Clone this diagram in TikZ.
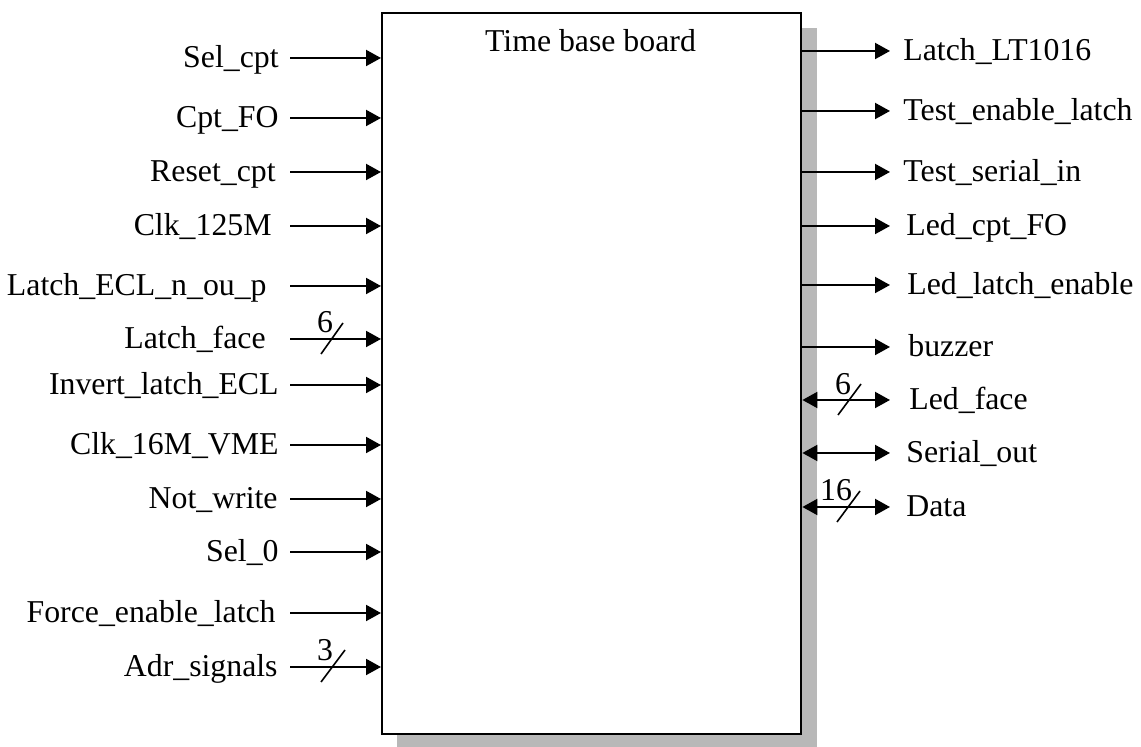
\documentclass[tikz,border=0pt]{standalone}
\usepackage{fontspec}
\setmainfont{Liberation Serif}
\usetikzlibrary{arrows.meta}
\begin{document}
\begin{tikzpicture}[x=0.5pt,y=-0.5pt,
  font=\fontsize{15.9}{19}\selectfont,
  tipA/.tip={Triangle[length=7.5pt,width=8pt]},
  sig/.style={line width=1pt,-tipA},
  bidir/.style={line width=1pt,tipA-tipA},
  lab/.style={inner sep=0pt},
  busslash/.style={line width=0.8pt}]
\useasboundingbox (0,0) rectangle (1141,747);
% shadow
\fill[black!28] (397,28) rectangle (817,747);
% main box
\node[draw, fill=white, line width=1.2pt, anchor=north west, inner sep=0pt,
      minimum width=209.5pt, minimum height=360.5pt] (box) at (381,12) {};
\node[lab, anchor=base] (title) at (590.5,52) {Time base board};
% inputs
\foreach \y/\t/\e [count=\i] in {
  58/Sel\_cpt/279,
  118/Cpt\_FO/279,
  172/Reset\_cpt/276,
  226/Clk\_125M/272,
  286/Latch\_ECL\_n\_ou\_p/267,
  339/Latch\_face/266,
  385/Invert\_latch\_ECL/279,
  445/Clk\_16M\_VME/279,
  499/Not\_write/278,
  552/Sel\_0/279,
  613/Force\_enable\_latch/276,
  667/Adr\_signals/278}{
  \coordinate (in\i) at (290,\y);
  \draw[sig] (in\i) -- (in\i -| box.west);
  \node[lab, anchor=base east] (il\i) at (\e,\y+10) {\t};
}
% outputs
\foreach \y/\t/\s [count=\i] in {
  51/Latch\_LT1016/903,
  111/Test\_enable\_latch/903,
  172/Test\_serial\_in/903,
  226/Led\_cpt\_FO/906,
  285/Led\_latch\_enable/907,
  347/buzzer/908}{
  \coordinate (out\i) at (890,\y);
  \draw[sig] (out\i -| box.east) -- (out\i);
  \node[lab, anchor=base west] (ol\i) at (\s,\y+10) {\t};
}
% bidirectional
\foreach \y/\t/\s [count=\i] in {
  400/Led\_face/909,
  453/Serial\_out/906,
  507/Data/906}{
  \coordinate (bd\i) at (890,\y);
  \draw[bidir] (bd\i -| box.east) -- (bd\i);
  \node[lab, anchor=base west] (bl\i) at (\s,\y+10) {\t};
}
% bus widths
\draw[busslash] (321,354) -- (343,323);
\node[lab, anchor=base] (w1) at (325,333) {6};
\draw[busslash] (321,682) -- (345,650);
\node[lab, anchor=base] (w2) at (325,661) {3};
\draw[busslash] (838,415) -- (861,384);
\node[lab, anchor=base] (w3) at (843,395) {6};
\draw[busslash] (837,522) -- (860,491);
\node[lab, anchor=base] (w4) at (836,501) {16};
\end{tikzpicture}
\end{document}
